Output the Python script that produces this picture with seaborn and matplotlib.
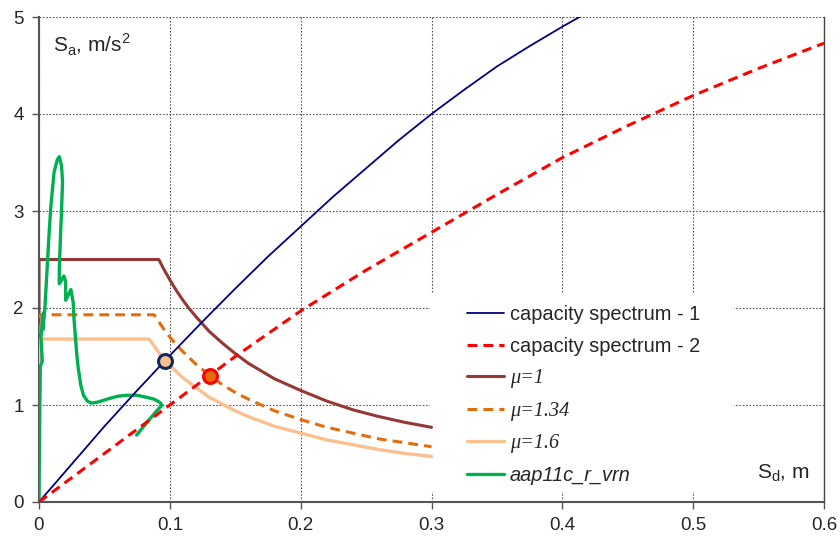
import numpy as np
import pandas as pd
import matplotlib
matplotlib.use("Agg")
import matplotlib.pyplot as plt
from matplotlib.patches import Rectangle
import seaborn as sns

# capacity spectrum 1 (navy)
cs1_x = [0, 0.025, 0.05, 0.075, 0.1, 0.125, 0.15, 0.175, 0.2, 0.225, 0.25, 0.275,
         0.3, 0.325, 0.35, 0.375, 0.4, 0.425]
cs1_y = [0, 0.39, 0.78, 1.15, 1.51, 1.86, 2.2, 2.53, 2.84, 3.15, 3.44, 3.73,
         4.0, 4.25, 4.49, 4.70, 4.90, 5.09]

# capacity spectrum 2 (red dashed)
cs2_x = [0, 0.05, 0.1, 0.15, 0.2, 0.25, 0.3, 0.35, 0.4, 0.45, 0.5, 0.55, 0.6]
cs2_y = [0, 0.5, 1.0, 1.5, 1.97, 2.39, 2.78, 3.17, 3.55, 3.88, 4.19, 4.47, 4.73]

# demand spectra
mu1_x = [0, 0, 0.0916, 0.095, 0.1, 0.105, 0.11, 0.115, 0.12, 0.13, 0.14, 0.15, 0.16,
         0.17, 0.18, 0.19, 0.2, 0.22, 0.24, 0.26, 0.28, 0.3]
mu1_y = [1.0, 2.5, 2.5, 2.41, 2.29, 2.18, 2.08, 1.99, 1.91, 1.76, 1.64, 1.53, 1.43,
         1.35, 1.27, 1.21, 1.15, 1.04, 0.95, 0.88, 0.82, 0.77]

mu134_x = [0, 0, 0.088, 0.092, 0.096, 0.1, 0.105, 0.11, 0.12, 0.13, 0.14, 0.15, 0.16,
           0.18, 0.2, 0.22, 0.24, 0.26, 0.28, 0.3]
mu134_y = [0.75, 1.93, 1.93, 1.85, 1.77, 1.70, 1.62, 1.55, 1.42, 1.31, 1.21, 1.13, 1.06,
           0.94, 0.85, 0.77, 0.71, 0.65, 0.61, 0.57]

mu16_x = [0, 0, 0.084, 0.088, 0.092, 0.096, 0.1, 0.11, 0.12, 0.13, 0.14, 0.15, 0.16,
          0.18, 0.2, 0.22, 0.24, 0.26, 0.28, 0.3]
mu16_y = [0.63, 1.68, 1.68, 1.61, 1.53, 1.47, 1.41, 1.28, 1.18, 1.08, 1.01, 0.94, 0.88,
          0.78, 0.71, 0.64, 0.59, 0.54, 0.50, 0.47]

# record aap11c_r_vrn (green)
rec_x = [0, 0.0005, 0.001, 0.0025, 0.0015, 0.0035, 0.003, 0.0045, 0.006, 0.0075, 0.009,
         0.0115, 0.014, 0.0155, 0.0172, 0.018, 0.0172, 0.0163, 0.0155, 0.0155, 0.019,
         0.0204, 0.0204, 0.0244, 0.0262, 0.0268, 0.0288, 0.030, 0.032, 0.034, 0.037,
         0.040, 0.045, 0.052, 0.060, 0.067, 0.075, 0.082, 0.088, 0.092, 0.094, 0.090,
         0.085, 0.080, 0.0746]
rec_y = [0, 0.8, 1.4, 1.45, 1.7, 1.95, 1.78, 2.0, 2.36, 2.72, 3.04,
         3.4, 3.53, 3.56, 3.47, 3.3, 3.0, 2.7, 2.4, 2.25, 2.33,
         2.27, 2.08, 2.19, 2.05, 1.88, 1.53, 1.38, 1.2, 1.1, 1.04,
         1.02, 1.03, 1.06, 1.09, 1.10, 1.10, 1.08, 1.06, 1.03, 1.0, 0.94,
         0.86, 0.78, 0.69]

# performance points
pp1 = (0.0962, 1.457)
pp2 = (0.1305, 1.30)

x_ticks = [0, 0.1, 0.2, 0.3, 0.4, 0.5, 0.6]
x_tick_labels = ["0", "0.1", "0.2", "0.3", "0.4", "0.5", "0.6"]
y_ticks = [0, 1, 2, 3, 4, 5]

sns.set_style("white")
plt.rcParams["font.family"] = ["Liberation Sans", "DejaVu Sans"]
plt.rcParams["mathtext.fontset"] = "custom"
plt.rcParams["mathtext.rm"] = "Liberation Sans"

fig = plt.figure(figsize=(8.4, 5.41), dpi=100)
ax = fig.add_axes([39 / 840, 39 / 541, 785 / 840, 485 / 541])

sns.lineplot(x=cs1_x, y=cs1_y, ax=ax, color="#000080", lw=1.3, sort=False,
             estimator=None, label="capacity spectrum - 1", zorder=4)
sns.lineplot(x=cs2_x, y=cs2_y, ax=ax, color="#FF0000", lw=2.2, sort=False,
             estimator=None, label="capacity spectrum - 2", linestyle=(0, (3.2, 2)), zorder=4)
sns.lineplot(x=mu1_x, y=mu1_y, ax=ax, color="#953735", lw=2.2, sort=False,
             estimator=None, label="μ=1", zorder=3)
sns.lineplot(x=mu134_x, y=mu134_y, ax=ax, color="#E46C0A", lw=2.2, sort=False,
             estimator=None, label="μ=1.34", linestyle=(0, (3.2, 2)), zorder=3)
sns.lineplot(x=mu16_x, y=mu16_y, ax=ax, color="#FAC090", lw=2.4, sort=False,
             estimator=None, label="μ=1.6", zorder=3)
sns.lineplot(x=rec_x, y=rec_y, ax=ax, color="#00B050", lw=2.4, sort=False,
             estimator=None, label="aap11c_r_vrn", zorder=3)

ax.plot(*pp1, "o", ms=10, mfc="#FAC090", mec="#0F2A5A", mew=2.2, zorder=6)
ax.plot(*pp2, "o", ms=10, mfc="#E46C0A", mec="#FF0000", mew=2.2, zorder=6)

ax.set_xlim(0, 0.6)
ax.set_ylim(0, 5)
ax.set_xticks(x_ticks)
ax.set_xticklabels(x_tick_labels)
ax.set_yticks(y_ticks)
ax.tick_params(axis="both", labelsize=13.5, length=5, width=1, color="#555555",
               direction="out", left=True, bottom=True, pad=6)
ax.grid(True, color="#555555", lw=0.8, linestyle=(0, (1.5, 1.5)))
ax.set_axisbelow(True)
for side in ["left", "bottom"]:
    ax.spines[side].set_color("#555555")
    ax.spines[side].set_linewidth(1.5)
ax.spines["top"].set_visible(False)
ax.spines["right"].set_color("#444444")
ax.spines["right"].set_linewidth(1.0)

# white box behind legend hides the grid
ax.add_patch(Rectangle((0.498, 0.02), 0.387, 0.41, transform=ax.transAxes,
                       facecolor="white", edgecolor="none", zorder=1.5))

leg = ax.legend(loc="upper left", bbox_to_anchor=(0.545, 0.406), frameon=False,
                fontsize=14.4, handlelength=1.85, handletextpad=0.3,
                labelspacing=0.66, borderpad=0, borderaxespad=0)
texts = leg.get_texts()
for t in texts[2:5]:
    t.set_fontfamily(["Liberation Serif", "DejaVu Serif"])
    t.set_fontstyle("italic")
    t.set_fontsize(14.6)
texts[5].set_fontstyle("italic")

ax.text(0.0107, 4.71, r"S$_\mathregular{a}$, m/s$^\mathregular{2}$", fontsize=15,
        va="center", ha="left")
ax.text(0.549, 0.3, r"S$_\mathregular{d}$, m", fontsize=15, va="center", ha="left")

fig.savefig("out.png", dpi=100)
